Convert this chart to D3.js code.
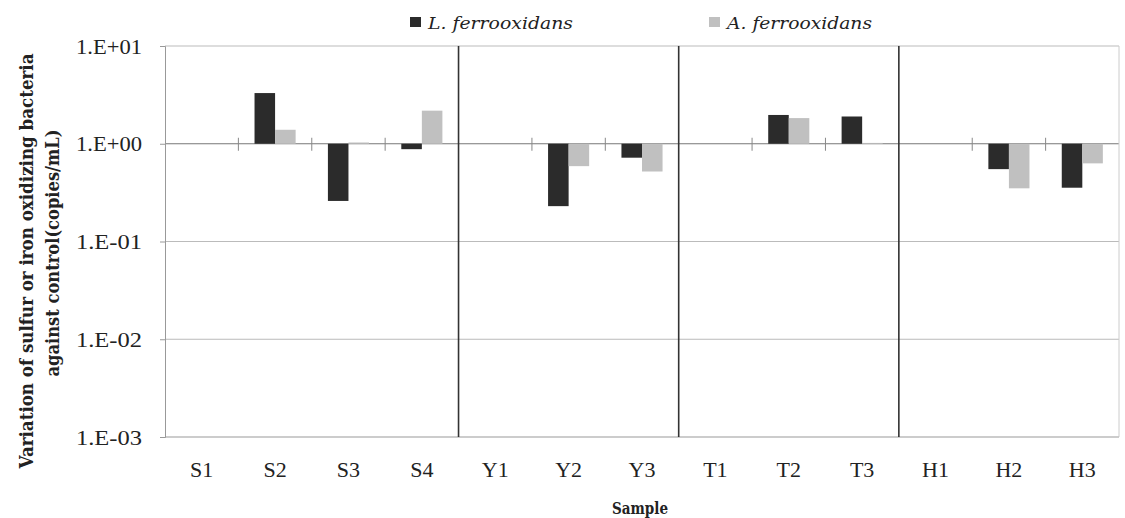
<!DOCTYPE html>
<html>
<head>
<meta charset="utf-8">
<script src="https://cdn.jsdelivr.net/npm/d3@7"></script>
<style>
  body { margin: 0; background: #fff; }
  text { font-family: "Liberation Serif", "Times New Roman", serif; fill: #222; }
  .styled { font-family: "DejaVu Serif", "Liberation Serif", serif; }
</style>
</head>
<body>
<div id="chart"></div>
<script>
/* data */
var samples = ["S1","S2","S3","S4","Y1","Y2","Y3","T1","T2","T3","H1","H2","H3"];
var lFerro = [1, 3.3, 0.26, 0.88, 1, 0.23, 0.72, 1, 1.97, 1.9, 1, 0.55, 0.355];
var aFerro = [1, 1.39, 1.03, 2.18, 1, 0.59, 0.52, 1, 1.83, 1.02, 1, 0.35, 0.63];
var seriesNames = ["L. ferrooxidans", "A. ferrooxidans"];
var seriesColors = ["#2b2b2b", "#c0c0c0"];
var yTicks = [1e1, 1e0, 1e-1, 1e-2, 1e-3];
var yTickLabels = ["1.E+01", "1.E+00", "1.E-01", "1.E-02", "1.E-03"];
var groupEnds = ["S4", "Y3", "T3"];

var W = 1125, H = 518;
var margin = { top: 46, right: 6, bottom: 81, left: 165 };
var width = W - margin.left - margin.right;
var height = H - margin.top - margin.bottom;

var svg = d3.select("#chart").append("svg")
  .attr("width", W)
  .attr("height", H);

var g = svg.append("g")
  .attr("transform", "translate(" + margin.left + "," + margin.top + ")");

// scales
var x = d3.scaleBand().domain(samples).range([0, width]).padding(0);
var x1 = d3.scaleBand().domain([0, 1])
  .range([x.bandwidth() * 0.22, x.bandwidth() * 0.78]).padding(0);
var y = d3.scaleLog().domain([1e-3, 1e1]).range([height, 0]);

// gridlines
g.selectAll(".grid").data(yTicks).enter().append("line")
  .attr("x1", 0).attr("x2", width)
  .attr("y1", function(d){ return y(d); })
  .attr("y2", function(d){ return y(d); })
  .attr("stroke", function(d){ return d === 1 ? "#777" : "#bbb"; })
  .attr("stroke-width", 1);

// plot frame (right and bottom)
g.append("line").attr("x1", width).attr("x2", width).attr("y1", 0).attr("y2", height)
  .attr("stroke", "#ccc");
g.append("line").attr("x1", 0).attr("x2", width).attr("y1", height).attr("y2", height)
  .attr("stroke", "#bbb");

// y axis
var yAxis = d3.axisLeft(y).tickValues(yTicks).tickSize(5).tickPadding(18)
  .tickFormat(function(d, i){ return yTickLabels[i]; });
var yAxisG = g.append("g").call(yAxis);
yAxisG.select(".domain").attr("stroke", "#999");
yAxisG.selectAll(".tick line").attr("stroke", "#999");
yAxisG.selectAll(".tick text")
  .attr("font-size", "21px")
  .attr("fill", "#222")
  .attr("dy", "0.34em")
  .attr("textLength", 66)
  .attr("lengthAdjust", "spacingAndGlyphs");

// small ticks on the baseline at category boundaries
var bounds = samples.slice(1).filter(function(s, i){ return groupEnds.indexOf(samples[i]) < 0; });
g.selectAll(".btick").data(bounds).enter().append("line")
  .attr("x1", function(d){ return x(d); })
  .attr("x2", function(d){ return x(d); })
  .attr("y1", y(1) - 6).attr("y2", y(1) + 7)
  .attr("stroke", "#888");

// bars
var rows = samples.map(function(s, i){ return { s: s, v: [lFerro[i], aFerro[i]] }; });
var cat = g.selectAll(".cat").data(rows).enter().append("g")
  .attr("transform", function(d){ return "translate(" + x(d.s) + ",0)"; });
cat.selectAll("rect").data(function(d){ return d.v; }).enter().append("rect")
  .attr("x", function(d, i){ return x1(i); })
  .attr("width", x1.bandwidth())
  .attr("y", function(d){ return Math.min(y(d), y(1)); })
  .attr("height", function(d){ return Math.abs(y(d) - y(1)); })
  .attr("fill", function(d, i){ return seriesColors[i]; });

// group dividers
g.selectAll(".divider").data(groupEnds).enter().append("line")
  .attr("x1", function(d){ return x(d) + x.bandwidth(); })
  .attr("x2", function(d){ return x(d) + x.bandwidth(); })
  .attr("y1", 0).attr("y2", height)
  .attr("stroke", "#333").attr("stroke-width", 1.6);

// x labels
g.selectAll(".xlab").data(samples).enter().append("text")
  .attr("x", function(d){ return x(d) + x.bandwidth() / 2; })
  .attr("y", height + 40)
  .attr("text-anchor", "middle")
  .attr("font-size", "22px")
  .text(function(d){ return d; });

// x title
g.append("text")
  .attr("class", "styled")
  .attr("x", 640 - margin.left)
  .attr("y", height + 77)
  .attr("text-anchor", "middle")
  .attr("font-size", "17px")
  .attr("font-weight", "bold")
  .attr("textLength", 56)
  .attr("lengthAdjust", "spacingAndGlyphs")
  .text("Sample");

// y title (two lines), thickened with a scale so the natural length stays on the page
svg.append("text")
  .attr("class", "styled")
  .attr("transform", "translate(33,261) rotate(-90) scale(1,1.35)")
  .attr("text-anchor", "middle")
  .attr("font-size", "14px")
  .attr("font-weight", "bold")
  .attr("textLength", 415)
  .attr("lengthAdjust", "spacingAndGlyphs")
  .text("Variation of sulfur or iron oxidizing bacteria");
svg.append("text")
  .attr("class", "styled")
  .attr("transform", "translate(59,253) rotate(-90) scale(1,1.35)")
  .attr("text-anchor", "middle")
  .attr("font-size", "14px")
  .attr("font-weight", "bold")
  .attr("textLength", 247)
  .attr("lengthAdjust", "spacingAndGlyphs")
  .text("against control(copies/mL)");

// legend
var legendX = [410, 709];
var legendLen = [145, 145];
var lg = svg.selectAll(".legend").data(seriesNames).enter().append("g")
  .attr("transform", function(d, i){ return "translate(" + legendX[i] + ",0)"; });
lg.append("rect")
  .attr("x", 0).attr("y", 17).attr("width", 11).attr("height", 10)
  .attr("fill", function(d, i){ return seriesColors[i]; });
lg.append("text")
  .attr("class", "styled")
  .attr("x", 18).attr("y", 29)
  .attr("font-size", "17px")
  .attr("font-style", "italic")
  .attr("textLength", function(d, i){ return legendLen[i]; })
  .attr("lengthAdjust", "spacingAndGlyphs")
  .text(function(d){ return d; });
</script>
</body>
</html>
